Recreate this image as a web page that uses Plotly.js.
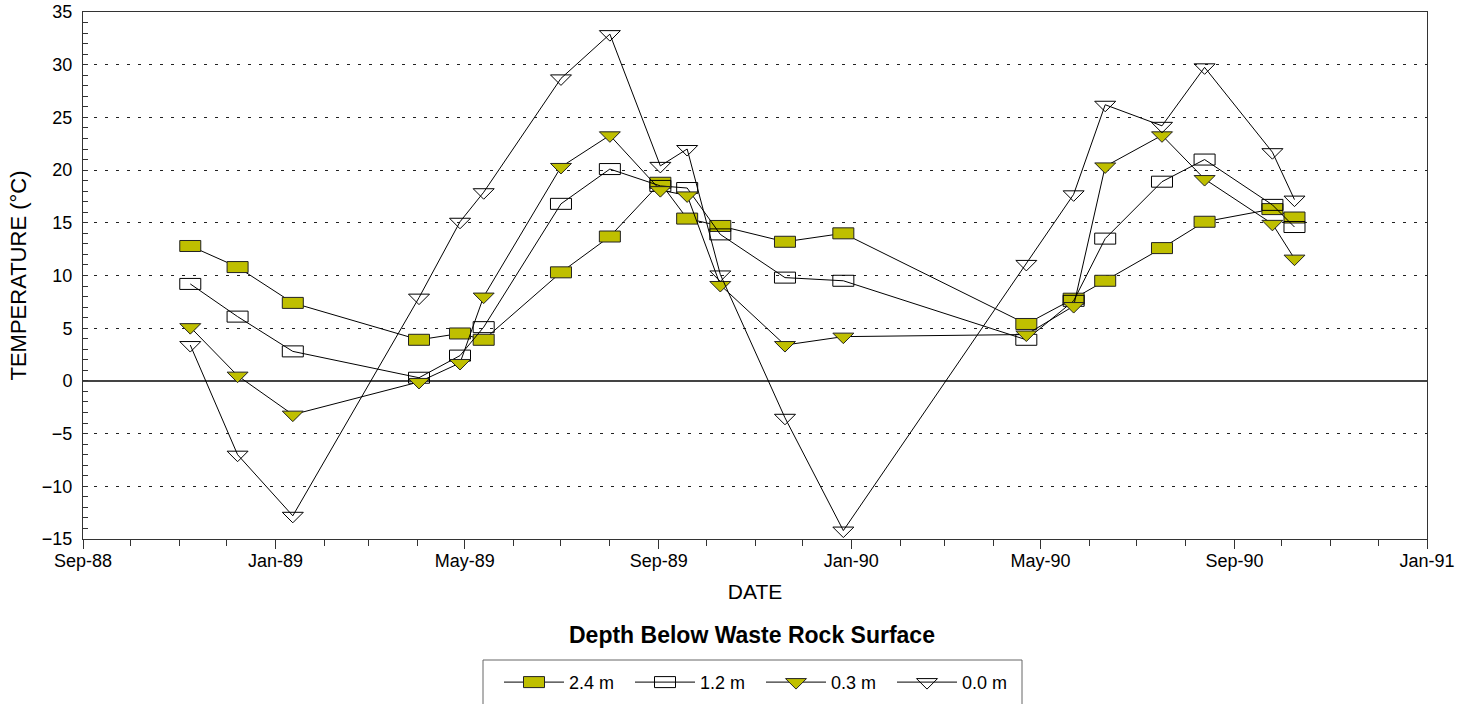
<!DOCTYPE html>
<html>
<head>
<meta charset="utf-8">
<script src="https://cdn.plot.ly/plotly-3.0.1.min.js"></script>
<style>
  html, body { margin: 0; padding: 0; background: #fff; }
  #chart { width: 1468px; height: 704px; }
</style>
</head>
<body>
<div id="chart"></div>
<script>
const dates = ["1988-11-08","1988-12-08","1989-01-12","1989-04-02","1989-04-28","1989-05-13",
               "1989-07-01","1989-08-01","1989-09-02","1989-09-19","1989-10-10","1989-11-20",
               "1989-12-27","1990-04-22","1990-05-22","1990-06-11","1990-07-17","1990-08-13",
               "1990-09-25","1990-10-09"];
// Temperatures (°C) by depth below waste rock surface
const t24 = [12.8, 10.8, 7.4, 3.9, 4.5, 3.9, 10.3, 13.7, 18.8, 15.4, 14.7, 13.2, 14.0, 5.4, 7.8, 9.5, 12.6, 15.1, 16.3, 15.5];
const t12 = [9.2, 6.1, 2.8, 0.3, 2.4, 5.1, 16.8, 20.1, 18.5, 18.3, 13.9, 9.8, 9.5, 3.9, 7.6, 13.5, 18.9, 21.0, 16.7, 14.6];
const t03 = [5.1, 0.5, -3.2, -0.1, 1.7, 8.0, 20.3, 23.3, 18.1, 17.6, 9.1, 3.4, 4.2, 4.4, 7.1, 20.35, 23.3, 19.15, 14.9, 11.6];
const t00 = [3.4, -7.0, -12.8, 7.9, 15.1, 17.9, 28.7, 32.9, 20.4, 22.0, 10.1, -3.5, -14.2, 11.1, 17.7, 26.2, 24.2, 29.75, 21.7, 17.2];
const seriesNames = ["2.4 m", "1.2 m", "0.3 m", "0.0 m"];

const FONT = "Liberation Sans, Arial, sans-serif";
const OLIVE = "#BFBF00";

const traces = [
  {x: dates, y: t24, name: seriesNames[0], mode: "lines+markers",
   line: {color: "#000", width: 1},
   marker: {symbol: "square", size: 12, color: OLIVE, line: {color: "#222", width: 1}}},
  {x: dates, y: t12, name: seriesNames[1], mode: "lines+markers",
   line: {color: "#000", width: 1},
   marker: {symbol: "square-open", size: 12, color: "#000", line: {width: 1}}},
  {x: dates, y: t03, name: seriesNames[2], mode: "lines+markers",
   line: {color: "#000", width: 1},
   marker: {symbol: "triangle-down", size: 14, color: OLIVE, line: {color: "#222", width: 1}}},
  {x: dates, y: t00, name: seriesNames[3], mode: "lines+markers",
   line: {color: "#000", width: 1},
   marker: {symbol: "triangle-down-open", size: 14, color: "#000", line: {width: 1}}}
];

const layout = {
  width: 1468, height: 704,
  margin: {l: 83, r: 41, t: 12, b: 165, autoexpand: false},
  paper_bgcolor: "#fff", plot_bgcolor: "#fff",
  font: {family: FONT, size: 18, color: "#000"},
  showlegend: true,
  xaxis: {
    type: "date",
    range: ["1988-09-01", "1991-01-01"],
    tick0: "1988-09-01", dtick: "M4", tickformat: "%b-%y",
    ticks: "outside", ticklen: 9, tickcolor: "#333", tickwidth: 1,
    minor: {dtick: "M1", ticks: "outside", ticklen: 6, tickcolor: "#333", tickwidth: 1, showgrid: false},
    showgrid: false, zeroline: false,
    showline: true, linecolor: "#333", linewidth: 1, mirror: true,
    ticklabelstandoff: -4,
    tickfont: {family: FONT, size: 18, color: "#000"},
    title: {text: "DATE", font: {family: FONT, size: 21, color: "#000"}, standoff: 14}
  },
  yaxis: {
    range: [-15, 35], dtick: 5, tick0: 0,
    ticks: "inside", ticklen: 5, tickcolor: "#333", tickwidth: 1,
    minor: {dtick: 1, ticks: "inside", ticklen: 5, tickcolor: "#333", tickwidth: 1, showgrid: false},
    showgrid: true, gridcolor: "#222", gridwidth: 1, griddash: "3px,8px",
    zeroline: true, zerolinecolor: "#444", zerolinewidth: 1.5,
    showline: true, linecolor: "#333", linewidth: 1, mirror: true,
    ticklabelstandoff: 6,
    tickfont: {family: FONT, size: 18, color: "#000"},
    title: {text: "TEMPERATURE (°C)", font: {family: FONT, size: 22, color: "#000"}, standoff: 9}
  },
  legend: {
    orientation: "h", x: (499 - 83) / 1344, xanchor: "left", y: -0.237, yanchor: "top",
    borderwidth: 0, bgcolor: "rgba(0,0,0,0)",
    font: {family: FONT, size: 18, color: "#000"},
    itemwidth: 60, entrywidth: 56, traceorder: "normal"
  },
  shapes: [{
    type: "rect", xref: "paper", yref: "paper", layer: "below",
    x0: (483 - 83) / 1344, x1: (1022 - 83) / 1344,
    y0: (539 - 660) / 527, y1: (539 - 720) / 527,
    line: {color: "#666", width: 1}, fillcolor: "rgba(0,0,0,0)"
  }],
  annotations: [{
    text: "<b>Depth Below Waste Rock Surface</b>",
    xref: "paper", yref: "paper", x: (752 - 83) / 1344, y: -0.182, xanchor: "center", yanchor: "middle",
    showarrow: false, font: {family: FONT, size: 23, color: "#000"}
  }]
};

const RECT = "M-10.5,-5.5H10.5V5.5H-10.5Z";
const TRI = "M-10.5,-3.5H10.5L0,7Z";
const shapesD = [RECT, RECT, TRI, TRI];

function reshape(gd) {
  const tr = gd.querySelectorAll(".scatterlayer .trace");
  tr.forEach((g, i) => {
    g.querySelectorAll("path.point").forEach(p => p.setAttribute("d", shapesD[i]));
  });
  const lg = gd.querySelectorAll(".legend .traces");
  lg.forEach((g, i) => {
    g.querySelectorAll(".legendpoints path.scatterpts").forEach(p => p.setAttribute("d", shapesD[i]));
  });
}

const gd = document.getElementById("chart");
Plotly.newPlot(gd, traces, layout, {staticPlot: true, displayModeBar: false}).then(() => {
  reshape(gd);
  gd.on && gd.on("plotly_afterplot", () => reshape(gd));
});
</script>
</body>
</html>
